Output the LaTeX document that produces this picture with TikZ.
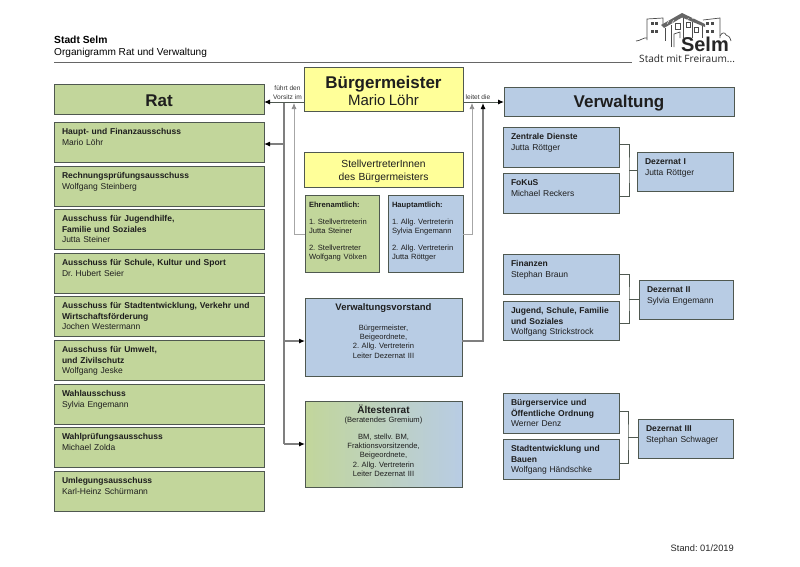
\documentclass[tikz,border=0pt]{standalone}
\usepackage{fontspec}
\setmainfont{Liberation Sans}
\newfontfamily\mottofont{Open Sans}
\usetikzlibrary{arrows.meta}
\definecolor{ratgreen}{HTML}{C2D69B}
\definecolor{verwblue}{HTML}{B8CCE4}
\definecolor{bmyellow}{HTML}{FFFF99}
\definecolor{edgegray}{HTML}{4F5850}
\definecolor{busgray}{HTML}{7F7F7F}
\definecolor{inkgray}{HTML}{1E1E1E}
\tikzset{
  orgbox/.style 2 args={draw=edgegray,line width=0.85pt,anchor=north west,outer sep=0pt,
    inner xsep=8pt,inner ysep=5.5pt,text=inkgray,align=left,
    text width={(#1-16)*1pt},text height=7pt,text depth={(#2-18)*1pt},
    font=\fontsize{8.5}{10.6}\selectfont},
  headbox/.style 2 args={draw=edgegray,line width=0.85pt,anchor=north west,outer sep=0pt,
    inner sep=0pt,text=inkgray,align=center,text width={#1*1pt},minimum height={#2*1pt}},
  greenfill/.style={fill=ratgreen},
  bluefill/.style={fill=verwblue},
  yellowfill/.style={fill=bmyellow},
  small/.style={inner xsep=4pt,text width={(#1-8)*1pt},font=\fontsize{7.6}{9.3}\selectfont},
  busline/.style={draw=busgray,line width=1.1pt},
  darkline/.style={draw=edgegray,line width=1pt},
  lightline/.style={draw=black!35,line width=0.7pt},
  blacktip/.style={-{Latex[black,length=6pt,width=5pt]}},
  graytip/.style={-{Latex[black!45,length=6pt,width=5pt]}},
  cutline/.style={draw=edgegray,line width=0.8pt},
  logoline/.style={draw=black!70,line width=0.7pt},
  logowin/.style={fill=black!70},
  caption/.style={inner sep=0pt,text=black!80,align=center,font=\fontsize{6.6}{8.6}\selectfont}
}
\begin{document}
\frenchspacing
\begin{tikzpicture}[x=1pt,y=-1pt]
  \useasboundingbox (0,0) rectangle (800,566);
  % header
  \node[inner sep=0pt,anchor=base west,font=\fontsize{10.3}{12}\selectfont\bfseries] (title) at (54,43) {Stadt Selm};
  \node[inner sep=0pt,anchor=base west,font=\fontsize{10.1}{12}\selectfont] (subtitle) at (54,55) {Organigramm Rat und Verwaltung};
  \draw[black!60,line width=0.7pt] (54,62) -- (632,62);
  \node[inner sep=0pt,anchor=base east,text=black!85,font=\fontsize{9.3}{11}\selectfont] (stand) at (734,551) {Stand: 01/2019};
  % logo
  \draw[logoline] (636,41) .. controls (640,41) and (644,37) .. (647,38);
  \draw[logoline] (647,40) -- (647,19) -- (663,18) -- (663,24);
  \draw[logoline] (703,20) -- (720,18) -- (720,38);
  \draw[logoline] (720,36) .. controls (722,32) and (725,32) .. (726,35) .. controls (728,35) and (730,37) .. (731,41);
  \fill[black!60] (661,25) -- (682,13) -- (705,24) -- (705,27) -- (682,17.5) -- (664,28) -- cycle;
  \foreach \i in {1,...,7}
    \draw[white,line width=0.4pt] (662+\i*5,{25-\i*1.1}) -- (664+\i*5,{21-\i*0.5});
  \draw[logoline] (665,28) -- (665,41);
  \draw[logoline] (671,25) -- (671,47);
  \draw[logoline] (683,18) -- (683,38);
  \draw[logoline] (692,22) -- (692,38);
  \draw[logoline] (702,26) -- (702,38);
  \draw[logoline] (674,47) -- (674,34) -- (680,32) -- (680,38);
  \draw[logoline,line width=1pt] (675,23) rectangle (680,29);
  \draw[logoline,line width=0.9pt] (686,22) rectangle (690,27);
  \draw[logoline] (694,27) rectangle (698,32);
  \foreach \wx/\wy in {650.5/22,655/22,650.5/30,655/30,706/22,711/22,706/30,711/30}
    \fill[logowin] (\wx,\wy) rectangle ++(3.2,3);
  \node[inner sep=0pt,anchor=base east,text=black!85,font=\fontsize{20}{20}\selectfont\bfseries] (selm) at (729,51.5) {Selm};
  \node[inner sep=0pt,anchor=base west,text=black!85,font=\mottofont\fontsize{10.1}{11}\selectfont] (motto) at (639,62.5) {Stadt mit Freiraum...};
  % rat
  \node[headbox={210}{30},greenfill,font=\fontsize{17}{19}\selectfont\bfseries] (rat) at (54,84) {\rule{0pt}{14.5pt}Rat};
  \node[orgbox={210}{40},greenfill] (hfa) at (54,122) {\textbf{Haupt- und Finanzausschuss}\\Mario Löhr};
  \node[orgbox={210}{40},greenfill] (rpa) at (54,166) {\textbf{Rechnungsprüfungsausschuss}\\Wolfgang Steinberg};
  \node[orgbox={210}{40},greenfill] (jfs) at (54,209) {\textbf{Ausschuss für Jugendhilfe,}\\\textbf{Familie und Soziales}\\Jutta Steiner};
  \node[orgbox={210}{40},greenfill] (skk) at (54,253) {\textbf{Ausschuss für Schule, Kultur und Sport}\\Dr. Hubert Seier};
  \node[orgbox={210}{40},greenfill] (svw) at (54,296) {\textbf{Ausschuss für Stadtentwicklung, Verkehr und}\\\textbf{Wirtschaftsförderung}\\Jochen Westermann};
  \node[orgbox={210}{40},greenfill] (uzs) at (54,340) {\textbf{Ausschuss für Umwelt,}\\\textbf{und Zivilschutz}\\Wolfgang Jeske};
  \node[orgbox={210}{40},greenfill] (wahl) at (54,384) {\textbf{Wahlausschuss}\\Sylvia Engemann};
  \node[orgbox={210}{40},greenfill] (wpa) at (54,427) {\textbf{Wahlprüfungsausschuss}\\Michael Zolda};
  \node[orgbox={210}{40},greenfill] (umleg) at (54,471) {\textbf{Umlegungsausschuss}\\Karl-Heinz Schürmann};
  % mitte
  \node[headbox={159}{44},yellowfill] (bm) at (304,67) {{\fontsize{17}{19}\selectfont\bfseries\rule{0pt}{17pt}Bürgermeister}\\[1.6pt]{\fontsize{15}{18}\selectfont Mario Löhr}};
  \node[headbox={159}{35},yellowfill,font=\fontsize{10.3}{12.5}\selectfont] (stv) at (304,152) {\rule{0pt}{11pt}StellvertreterInnen\\des Bürgermeisters};
  \node[orgbox={74}{77},small=74,greenfill] (ehren) at (305,195) {\textbf{Ehrenamtlich:}\\[7.4pt]1. Stellvertreterin\\Jutta Steiner\\[7.4pt]2. Stellvertreter\\Wolfgang Völxen};
  \node[orgbox={75}{77},small=75,bluefill] (haupt) at (388,195) {\textbf{Hauptamtlich:}\\[7.4pt]1. Allg. Vertreterin\\Sylvia Engemann\\[7.4pt]2. Allg. Vertreterin\\Jutta Röttger};
  \node[orgbox={157}{78},small=157,bluefill,align=center] (vv) at (305,298) {{\fontsize{9.5}{12}\selectfont\bfseries Verwaltungsvorstand}\\[10.4pt]Bürgermeister,\\Beigeordnete,\\2. Allg. Vertreterin\\Leiter Dezernat III};
  \node[orgbox={157}{86},small=157,left color=ratgreen,middle color=ratgreen!35!verwblue,right color=verwblue,align=center] (aelt) at (305,401) {{\fontsize{10}{12}\selectfont\bfseries Ältestenrat}\\(Beratendes Gremium)\\[7pt]BM, stellv. BM,\\Fraktionsvorsitzende,\\Beigeordnete,\\2. Allg. Vertreterin\\Leiter Dezernat III};
  % verwaltung
  \node[headbox={230}{29},bluefill,font=\fontsize{17}{19}\selectfont\bfseries] (verw) at (504,87) {\rule{0pt}{16pt}Verwaltung};
  \node[orgbox={116}{40},bluefill] (zd) at (503,127) {\textbf{Zentrale Dienste}\\Jutta Röttger};
  \node[orgbox={116}{40},bluefill] (fokus) at (503,173) {\textbf{FoKuS}\\Michael Reckers};
  \node[orgbox={96}{39},bluefill] (dezI) at (637,152) {\textbf{Dezernat I}\\Jutta Röttger};
  \node[orgbox={116}{40},bluefill] (fin) at (503,254) {\textbf{Finanzen}\\Stephan Braun};
  \node[orgbox={116}{39},bluefill] (jsfs) at (503,301) {\textbf{Jugend, Schule, Familie}\\\textbf{und Soziales}\\Wolfgang Strickstrock};
  \node[orgbox={94}{39},bluefill] (dezII) at (639,280) {\textbf{Dezernat II}\\Sylvia Engemann};
  \node[orgbox={116}{40},bluefill] (bso) at (503,393) {\textbf{Bürgerservice und}\\\textbf{Öffentliche Ordnung}\\Werner Denz};
  \node[orgbox={116}{40},bluefill] (seb) at (503,439) {\textbf{Stadtentwicklung und}\\\textbf{Bauen}\\Wolfgang Händschke};
  \node[orgbox={95}{39},bluefill] (dezIII) at (638,419) {\textbf{Dezernat III}\\Stephan Schwager};
  % connectors
  \coordinate (ratbus) at (284,102);
  \coordinate (verwbus) at (483,103);
  \coordinate (bmleft) at (294,103);
  \coordinate (bmright) at (472,103);
  \coordinate (ratin) at ([yshift=-3pt]rat.east);
  \coordinate (verwin) at ([yshift=-0.5pt]verw.west);
  \coordinate (hfain) at ([yshift=-2pt]hfa.east);
  \coordinate (vvin) at ([yshift=-4pt]vv.west);
  \coordinate (vvout) at ([yshift=-4pt]vv.east);
  \coordinate (ehrenout) at ([yshift=-1pt]ehren.west);
  \coordinate (hauptout) at ([yshift=-1pt]haupt.east);
  \coordinate (jointI) at (629,170);
  \coordinate (jointII) at (629,299);
  \coordinate (jointIII) at (628,437);
  \draw[busline] (ratbus) -- (ratbus |- aelt.west);
  \draw[darkline,blacktip] (ratin -| bm.west) -- (ratin);
  \draw[busline,blacktip] (ratbus |- hfain) -- (hfain);
  \draw[busline,blacktip] (ratbus |- vvin) -- (vvin);
  \draw[busline,blacktip] (ratbus |- aelt.west) -- (aelt.west);
  \draw[darkline,blacktip] (verwin -| bm.east) -- (verwin);
  \draw[busline,blacktip] (vvout) -| (verwbus);
  \draw[lightline,graytip] (ehrenout) -| (bmleft);
  \draw[lightline,graytip] (hauptout) -| (bmright);
  \draw[cutline] ([yshift=3pt]zd.east) -| (jointI) |- ([yshift=-3pt]fokus.east);
  \draw[cutline] (jointI) -- (jointI -| dezI.west);
  \draw[cutline] (fin.east) -| (jointII) |- ([yshift=-2.5pt]jsfs.east);
  \draw[cutline] (jointII) -- (jointII -| dezII.west);
  \draw[cutline] ([yshift=2pt]bso.east) -| (jointIII) |- ([yshift=-4pt]seb.east);
  \draw[cutline] (jointIII) -- (jointIII -| dezIII.west);
  \node[caption] (vorsitz) at (287.5,92.5) {führt den\\Vorsitz im};
  \node[caption] (leitet) at (478,97) {leitet die};
\end{tikzpicture}
\end{document}
